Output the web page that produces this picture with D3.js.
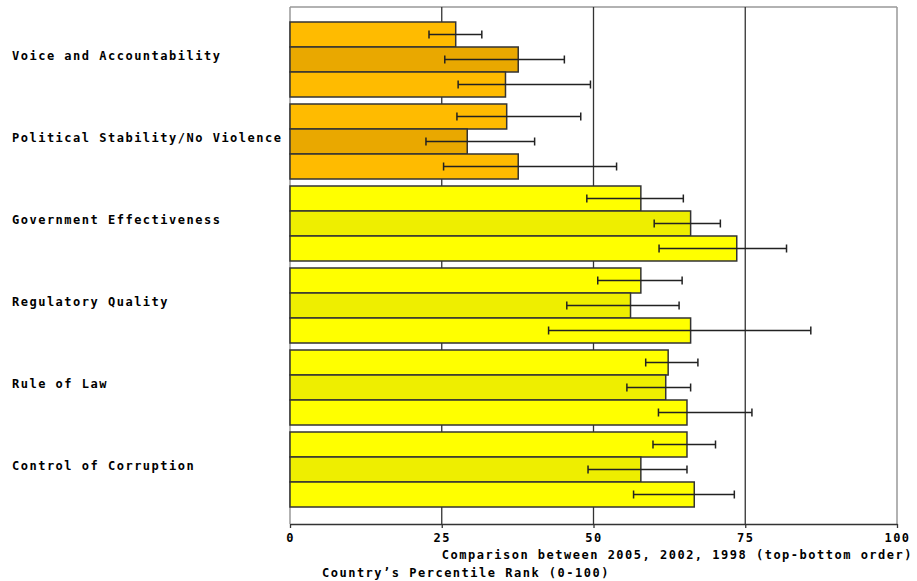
<!DOCTYPE html>
<html><head><meta charset="utf-8">
<script src="https://cdn.jsdelivr.net/npm/d3@7"></script>
<style>
html,body{margin:0;padding:0;background:#fff;}
text{font-family:"DejaVu Sans Mono","Liberation Mono",monospace;font-weight:bold;font-size:12px;letter-spacing:1.5px;fill:#000;}
</style></head>
<body><svg id="c" width="917" height="581"></svg>
<script>
const categories = ["Voice and Accountability","Political Stability/No Violence","Government Effectiveness","Regulatory Quality","Rule of Law","Control of Corruption"];
const years = ["2005","2002","1998"];
const values2005 = [27.3, 35.7, 57.8, 57.8, 62.3, 65.4];
const values2002 = [37.6, 29.2, 66.0, 56.1, 61.9, 57.8];
const values1998 = [35.5, 37.6, 73.6, 66.0, 65.4, 66.6];
const low2005  = [22.9, 27.5, 48.9, 50.7, 58.6, 59.8];
const high2005 = [31.6, 47.9, 64.8, 64.6, 67.2, 70.1];
const low2002  = [25.5, 22.4, 60.0, 45.6, 55.5, 49.1];
const high2002 = [45.2, 40.3, 70.9, 64.1, 66.0, 65.4];
const low1998  = [27.7, 25.3, 60.8, 42.6, 60.7, 56.6];
const high1998 = [49.5, 53.8, 81.8, 85.8, 76.1, 73.2];
const xTicks = [0, 25, 50, 75, 100];
const xTitle = "Comparison between 2005, 2002, 1998 (top-bottom order)";
const xSubtitle = "Country\u2019s Percentile Rank (0-100)";

const svg = d3.select("#c");
const x = d3.scaleLinear().domain([0,100]).range([290,897]);
const y = d3.scaleBand().domain(categories).range([22,507]).paddingInner(7/82).paddingOuter(0);
const ySub = d3.scaleBand().domain(years).range([0,y.bandwidth()]);

const rows = [];
categories.forEach((c,i)=>{
  const v=[values2005[i],values2002[i],values1998[i]];
  const lo=[low2005[i],low2002[i],low1998[i]];
  const hi=[high2005[i],high2002[i],high1998[i]];
  years.forEach((yr,j)=>rows.push({c,i,yr,j,v:v[j],lo:lo[j],hi:hi[j]}));
});
function color(d){
  const orange = d.i<2;
  if(d.j===1) return orange ? "#E9A800" : "#EEEE00";
  return orange ? "#FFBB00" : "#FFFF00";
}

// frame
svg.append("line").attr("x1",x(0)).attr("x2",x(100)).attr("y1",7).attr("y2",7).attr("stroke","#999").attr("stroke-width",1.5);
svg.append("line").attr("x1",x(100)).attr("x2",x(100)).attr("y1",7).attr("y2",524).attr("stroke","#999").attr("stroke-width",1.5);
svg.append("line").attr("x1",x(0)).attr("x2",x(0)).attr("y1",7).attr("y2",524).attr("stroke","#999").attr("stroke-width",1.5);
// grid
svg.selectAll(".grid").data(xTicks.filter(t=>t>0&&t<100)).enter().append("line")
  .attr("x1",d=>x(d)).attr("x2",d=>x(d)).attr("y1",7).attr("y2",524)
  .attr("stroke","#333").attr("stroke-width",1.3);

// bars
svg.selectAll(".bar").data(rows).enter().append("rect")
  .attr("x",x(0)).attr("y",d=>y(d.c)+ySub(d.yr))
  .attr("width",d=>x(d.v)-x(0)).attr("height",ySub.bandwidth())
  .attr("fill",color).attr("stroke","#333").attr("stroke-width",1.5);

// error bars
const eb = svg.selectAll(".eb").data(rows).enter().append("g")
  .attr("transform",d=>`translate(0,${y(d.c)+ySub(d.yr)+ySub.bandwidth()/2})`);
eb.append("line").attr("x1",d=>x(d.lo)).attr("x2",d=>x(d.hi)).attr("y1",0).attr("y2",0).attr("stroke","#222").attr("stroke-width",1.3);
eb.append("line").attr("x1",d=>x(d.lo)).attr("x2",d=>x(d.lo)).attr("y1",-4).attr("y2",4).attr("stroke","#222").attr("stroke-width",1.5);
eb.append("line").attr("x1",d=>x(d.hi)).attr("x2",d=>x(d.hi)).attr("y1",-4).attr("y2",4).attr("stroke","#222").attr("stroke-width",1.5);

// x axis
const ax = d3.axisBottom(x).tickValues(xTicks).tickSize(4).tickSizeOuter(0).tickFormat(d3.format("d"));
const axg = svg.append("g").attr("transform","translate(0,524)").call(ax);
axg.select(".domain").attr("stroke","#333").attr("stroke-width",1.3);
axg.selectAll(".tick line").attr("stroke","#333").attr("stroke-width",1.3);
axg.selectAll(".tick text").attr("y",9).attr("dy","0.71em").style("font-size","12px").style("letter-spacing","1.5px").style("font-family","DejaVu Sans Mono").style("font-weight","bold").attr("fill","#000");

// category labels
svg.selectAll(".cat").data(categories).enter().append("text")
  .attr("x",12).attr("y",d=>y(d)+y.bandwidth()/2).text(d=>d);

svg.append("text").attr("x",913).attr("y",559).attr("text-anchor","end").text(xTitle);
svg.append("text").attr("x",322).attr("y",577).text(xSubtitle);
</script></body></html>
